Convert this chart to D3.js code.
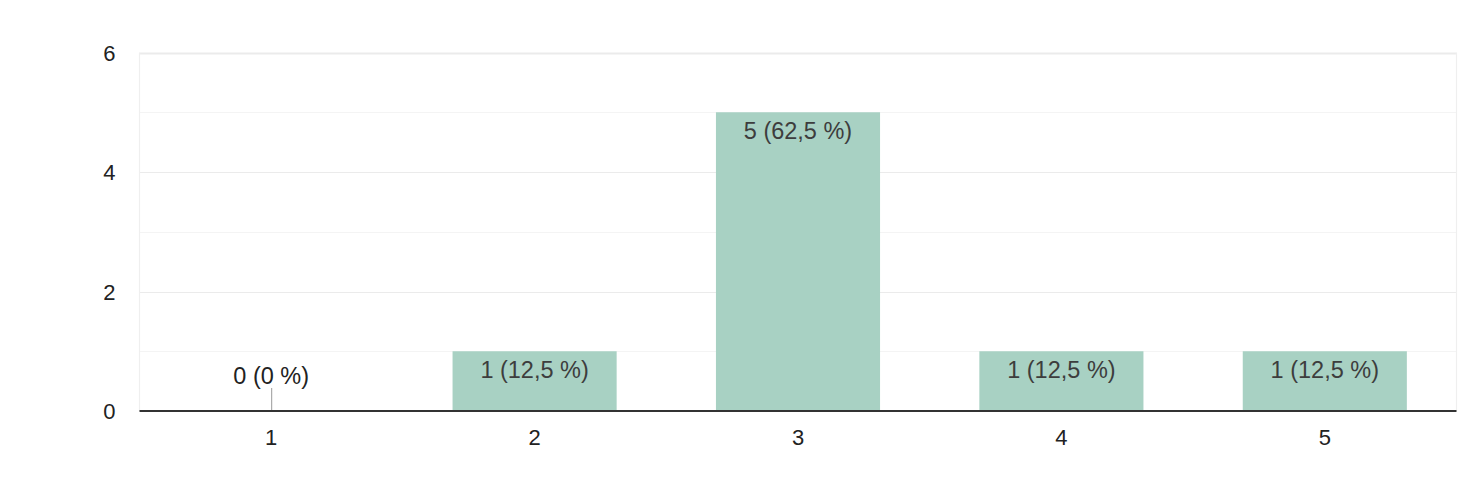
<!DOCTYPE html>
<html>
<head>
<meta charset="utf-8">
<script src="https://cdn.jsdelivr.net/npm/d3@7"></script>
<style>
  html, body { margin: 0; padding: 0; background: #fff; }
  svg { display: block; font-family: "Liberation Sans", Arial, sans-serif; }
</style>
</head>
<body>
<svg id="chart" width="1473" height="500"></svg>
<script>
const categories = ["1", "2", "3", "4", "5"];
const counts = [0, 1, 5, 1, 1];
const valueLabels = ["0 (0 %)", "1 (12,5 %)", "5 (62,5 %)", "1 (12,5 %)", "1 (12,5 %)"];
const yTicks = [0, 2, 4, 6];
const yMinorTicks = [1, 3, 5];

const svg = d3.select("#chart");
const plotLeft = 139.5, plotRight = 1456.5, plotTop = 52.5, plotBottom = 411;

const x = d3.scaleBand().domain(categories).range([plotLeft, plotRight]).paddingInner(0.377).paddingOuter(0.1885);
const y = d3.scaleLinear().domain([0, 6]).range([plotBottom, plotTop]);

// minor gridlines
svg.append("g").selectAll("line").data(yMinorTicks).join("line")
  .attr("x1", plotLeft).attr("x2", plotRight)
  .attr("y1", d => Math.round(y(d)) + 0.5).attr("y2", d => Math.round(y(d)) + 0.5)
  .attr("stroke", "#f4f4f4").attr("stroke-width", 1);

// major gridlines
svg.append("g").selectAll("line").data(yTicks.filter(d => d > 0)).join("line")
  .attr("x1", plotLeft).attr("x2", plotRight)
  .attr("y1", d => Math.round(y(d)) + 0.5).attr("y2", d => Math.round(y(d)) + 0.5)
  .attr("stroke", "#ebebeb").attr("stroke-width", d => d === 6 ? 2 : 1.2);

// left/right border
svg.append("g").selectAll("line").data([plotLeft, plotRight]).join("line")
  .attr("x1", d => d).attr("x2", d => d)
  .attr("y1", plotTop).attr("y2", plotBottom)
  .attr("stroke", "#efefef").attr("stroke-width", 1.2);

// bars
svg.append("g").selectAll("rect").data(counts).join("rect")
  .attr("x", (d, i) => x(categories[i]))
  .attr("width", x.bandwidth())
  .attr("y", d => y(d))
  .attr("height", d => y(0) - y(d))
  .attr("fill", "#a8d1c3");

// zero-value stub lines
svg.append("g").selectAll("line").data(counts.map((d, i) => ({d, i})).filter(o => o.d === 0)).join("line")
  .attr("x1", o => x(categories[o.i]) + x.bandwidth() / 2 + 0.5)
  .attr("x2", o => x(categories[o.i]) + x.bandwidth() / 2 + 0.5)
  .attr("y1", y(0) - 23).attr("y2", y(0))
  .attr("stroke", "#999").attr("stroke-width", 1);

// value labels
svg.append("g").selectAll("text").data(counts).join("text")
  .attr("x", (d, i) => x(categories[i]) + x.bandwidth() / 2)
  .attr("y", d => d === 0 ? y(0) - 27.5 : y(d) + 26.5)
  .attr("text-anchor", "middle")
  .attr("font-size", 23.5)
  .attr("fill", d => d === 0 ? "#222" : "#3d3d3d")
  .text((d, i) => valueLabels[i]);

// x axis baseline
svg.append("line")
  .attr("x1", plotLeft).attr("x2", plotRight)
  .attr("y1", y(0)).attr("y2", y(0))
  .attr("stroke", "#333").attr("stroke-width", 2);

// x tick labels
const xAxis = svg.append("g").attr("transform", `translate(0,${plotBottom})`)
  .call(d3.axisBottom(x).tickSize(0).tickPadding(0));
xAxis.select(".domain").remove();
xAxis.selectAll("text")
  .attr("y", 34)
  .attr("dy", 0)
  .attr("font-size", 22)
  .attr("font-family", "Liberation Sans, Arial, sans-serif")
  .attr("fill", "#222");

// y tick labels
const yAxis = svg.append("g").attr("transform", `translate(${plotLeft},0)`)
  .call(d3.axisLeft(y).tickValues(yTicks).tickFormat(d3.format("d")).tickSize(0).tickPadding(24));
yAxis.select(".domain").remove();
yAxis.selectAll("text")
  .attr("dy", "0.35em")
  .attr("font-size", 22)
  .attr("font-family", "Liberation Sans, Arial, sans-serif")
  .attr("fill", "#222");
</script>
</body>
</html>
